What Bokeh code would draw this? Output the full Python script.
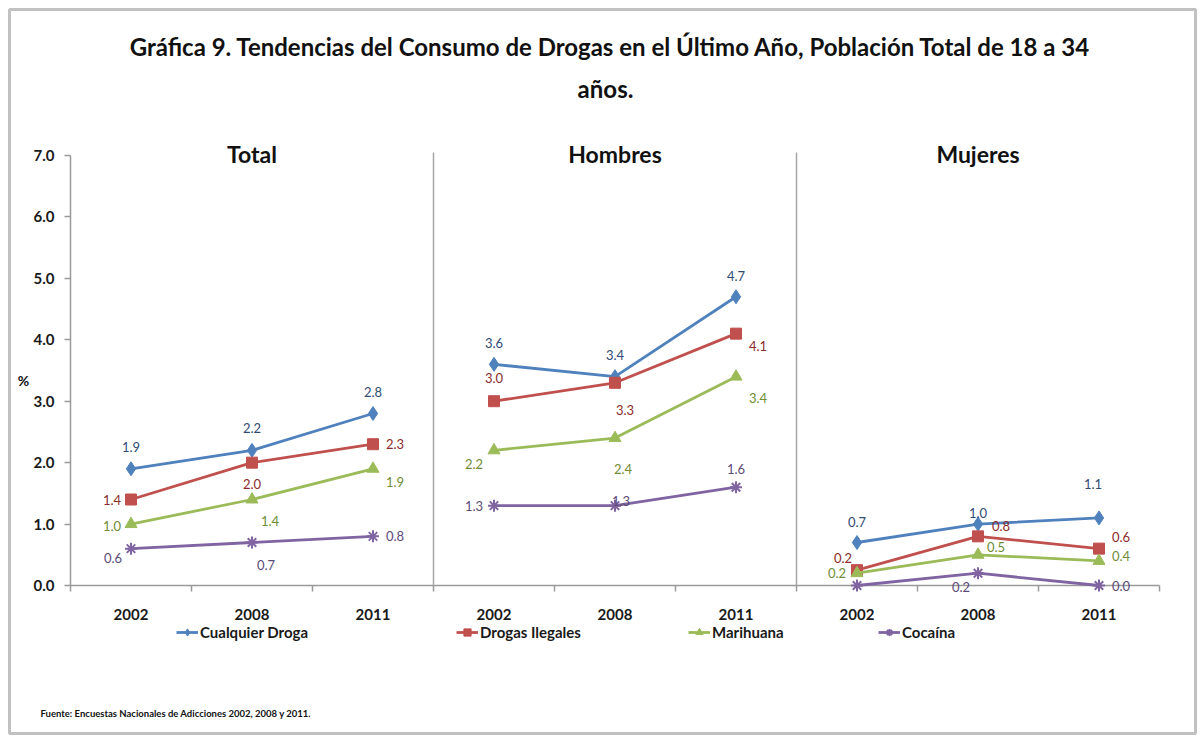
from bokeh.plotting import figure
from bokeh.models import (ColumnDataSource, FixedTicker, Range1d, Label, LabelSet,
                          Legend, LegendItem, BoxAnnotation, PrintfTickFormatter)
from bokeh.core.properties import value
from bokeh.embed import file_html
from bokeh.resources import INLINE

# ---------------- data ----------------
groups = ["Total", "Hombres", "Mujeres"]
years = ["2002", "2008", "2011"]
series_names = ["Cualquier Droga", "Drogas Ilegales", "Marihuana", "Cocaína"]

cualquier_droga = [[1.9, 2.2, 2.8], [3.6, 3.4, 4.7], [0.7, 1.0, 1.1]]
drogas_ilegales = [[1.4, 2.0, 2.3], [3.0, 3.3, 4.1], [0.25, 0.8, 0.6]]
marihuana = [[1.0, 1.4, 1.9], [2.2, 2.4, 3.4], [0.2, 0.5, 0.4]]
cocaina = [[0.6, 0.7, 0.8], [1.3, 1.3, 1.6], [0.0, 0.2, 0.0]]

y_ticks = [0, 1, 2, 3, 4, 5, 6, 7]
title_line1 = "Gráfica 9. Tendencias del Consumo de Drogas en el Último Año, Población Total de 18 a 34"
title_line2 = "años."
source_note = "Fuente: Encuestas Nacionales de Adicciones  2002, 2008 y 2011."
y_label = "%"

# ---------------- layout / style ----------------
W, H = 1201, 739
FL, FR, FT, FB = 70, 1159, 155, 585      # pixel box of the value area
NSLOT = len(groups) * len(years)
YMAX = y_ticks[-1]


def dx(px):
    return (px - FL) / (FR - FL) * NSLOT


def dy(py):
    return (FB - py) / (FB - FT) * YMAX


FONT = "Lato"
line_colors = ["#4F81BD", "#C0504D", "#9BBB59", "#8064A2"]
label_colors = ["#2F4B73", "#8A2C2A", "#6F8C35", "#5B4A78"]
markers = ["diamond", "square", "triangle", "asterisk"]
marker_sizes = [14, 11, 12, 12]

# label offsets in px (dx right, dy up) per series, per group, per year
label_offsets = [
    [[(0, 22), (0, 22), (0, 22)], [(0, 21), (0, 22), (0, 21)], [(0, 21), (0, 11), (-6, 34)]],
    [[(-19, 0), (0, -21), (22, 0)], [(0, 23), (10, -27), (22, -12)], [(-14, 12), (23, 10), (22, 12)]],
    [[(-19, -2), (18, -21), (22, -13)], [(-20, -14), (8, -31), (22, -21)], [(-20, 0), (18, 8), (22, 5)]],
    [[(-18, -9), (14, -22), (22, 0)], [(-20, 0), (6, 5), (0, 18)], [None, (-17, -14), (22, 0)]],
]
legend_glyph_left = [176, 456, 688, 878]
legend_bottom = 641

all_series = [cualquier_droga, drogas_ilegales, marihuana, cocaina]

p = figure(width=W, height=H, x_range=Range1d(dx(0), dx(W)), y_range=Range1d(dy(H), dy(0)),
           output_backend="svg", toolbar_location=None, title=None,
           min_border=0, min_border_left=0, min_border_right=0,
           min_border_top=0, min_border_bottom=0)
p.outline_line_color = None
p.grid.visible = False
p.background_fill_color = "white"
p.border_fill_color = "white"

axis_grey = "#9A9A9A"
# x axis (crossing at y = 0)
xa = p.xaxis[0]
xa.fixed_location = 0
centers = [i + 0.5 for i in range(NSLOT)]
xa.ticker = FixedTicker(ticks=centers, minor_ticks=list(range(NSLOT + 1)))
xa.major_label_overrides = {c: years[i % len(years)] for i, c in enumerate(centers)}
xa.major_tick_line_color = None
xa.major_tick_out = 0
xa.major_tick_in = 0
xa.minor_tick_line_color = axis_grey
xa.minor_tick_line_width = 1.5
xa.minor_tick_out = 6
xa.minor_tick_in = 0
xa.axis_line_color = None
xa.major_label_standoff = 17
xa.major_label_text_font = FONT
xa.major_label_text_font_size = "15px"
xa.major_label_text_font_style = "bold"
xa.major_label_text_color = "#1A1A1A"

# y axis (crossing at x = 0)
ya = p.yaxis[0]
ya.fixed_location = 0
ya.ticker = FixedTicker(ticks=y_ticks, minor_ticks=[])
ya.formatter = PrintfTickFormatter(format="%.1f")
ya.major_tick_out = 6
ya.major_tick_in = 0
ya.major_tick_line_color = axis_grey
ya.major_tick_line_width = 1.5
ya.axis_line_color = None
ya.major_label_standoff = 10
ya.major_label_text_font = FONT
ya.major_label_text_font_size = "15px"
ya.major_label_text_font_style = "bold"
ya.major_label_text_color = "#1A1A1A"

# axis lines and group separators
p.segment(x0=[0, 0], y0=[0, 0], x1=[NSLOT, 0], y1=[0, YMAX], line_color=axis_grey, line_width=1.5)
sep_x = [g * len(years) for g in range(1, len(groups))]
p.segment(x0=sep_x, y0=[0] * len(sep_x), x1=sep_x, y1=[YMAX + 0.05] * len(sep_x),
          line_color="#A6A6A6", line_width=1.5)

legend_renderers = []
for s, (name, data) in enumerate(zip(series_names, all_series)):
    first = None
    lx, ly, lt, ldx, ldy = [], [], [], [], []
    for g in range(len(groups)):
        xs = [g * len(years) + k + 0.5 for k in range(len(years))]
        ys = data[g]
        src = ColumnDataSource(dict(x=xs, y=ys))
        lr = p.line("x", "y", source=src, line_color=line_colors[s], line_width=2.8)
        if markers[s] == "asterisk":
            sr = p.scatter("x", "y", source=src, marker="asterisk", size=marker_sizes[s],
                           line_color=line_colors[s], line_width=2)
        else:
            sr = p.scatter("x", "y", source=src, marker=markers[s], size=marker_sizes[s],
                           fill_color=line_colors[s], line_color=line_colors[s])
        if first is None:
            first = (lr, sr)
        for k in range(len(years)):
            off = label_offsets[s][g][k]
            if off is None:
                continue
            lx.append(xs[k]); ly.append(ys[k]); lt.append(f"{ys[k]:.1f}")
            ldx.append(off[0]); ldy.append(off[1])
    lsrc = ColumnDataSource(dict(x=lx, y=ly, t=lt, ox=ldx, oy=ldy))
    p.add_layout(LabelSet(x="x", y="y", text="t", x_offset="ox", y_offset="oy", source=lsrc,
                          text_align="center", text_baseline="middle",
                          text_font=value(FONT), text_font_size=value("13px"),
                          text_color=label_colors[s]))
    legend_renderers.append(first)

# legends (one per item to match spacing)
for s, name in enumerate(series_names):
    lg = Legend(items=[LegendItem(label=name, renderers=list(legend_renderers[s]))],
                location=(legend_glyph_left[s], H - legend_bottom),
                orientation="horizontal", border_line_color=None,
                background_fill_alpha=0, padding=0, margin=0,
                glyph_width=22, glyph_height=18, label_height=18, label_standoff=2,
                label_text_font=FONT, label_text_font_size="15px",
                label_text_font_style="bold", label_text_color="#1A1A1A")
    p.add_layout(lg)

# group titles
for g, gname in enumerate(groups):
    p.add_layout(Label(x=g * len(years) + 1.5, y=YMAX, y_offset=2, text=gname,
                       text_align="center", text_baseline="middle",
                       text_font=FONT, text_font_size="23px", text_font_style="bold",
                       text_color="#111111"))

# y label
p.add_layout(Label(x=dx(23), y=dy(380), text=y_label, text_align="center", text_baseline="middle",
                   text_font=FONT, text_font_size="14px", text_font_style="bold", text_color="#111111"))

# title
p.add_layout(Label(x=dx(610), y=dy(46), text=title_line1, text_align="center", text_baseline="middle",
                   text_font=FONT, text_font_size="24px", text_font_style="bold", text_color="#111111"))
p.add_layout(Label(x=dx(605), y=dy(88), text=title_line2, text_align="center", text_baseline="middle",
                   text_font=FONT, text_font_size="24px", text_font_style="bold", text_color="#111111"))

# source note
p.add_layout(Label(x=dx(40), y=dy(713), text=source_note, text_align="left", text_baseline="middle",
                   text_font=FONT, text_font_size="9.5px", text_font_style="bold", text_color="#111111"))

# outer frame
p.add_layout(BoxAnnotation(left=dx(9), right=dx(1195), top=dy(9), bottom=dy(733),
                           fill_alpha=0, line_color="#333333", line_width=3))

open("out.html", "w").write(file_html(p, INLINE))
